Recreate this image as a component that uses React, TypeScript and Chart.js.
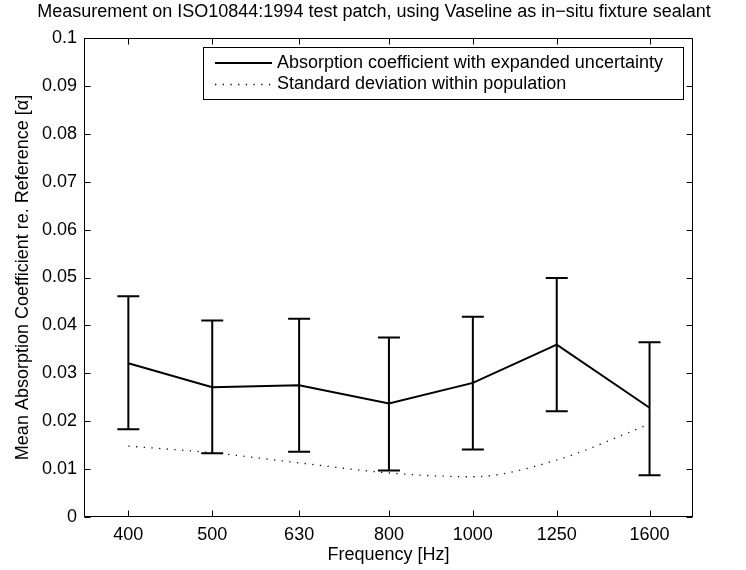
import React, { useEffect, useRef } from 'react';
import { Chart, registerables } from 'chart.js';

Chart.register(...registerables);

// ---- Data ----
const frequencies = [400, 500, 630, 800, 1000, 1250, 1600];
const frequencyLabels = ['400', '500', '630', '800', '1000', '1250', '1600'];
const meanAbsorption = [0.0321, 0.0271, 0.0275, 0.0237, 0.028, 0.036, 0.0228];
const upperBound = [0.0461, 0.041, 0.0414, 0.0375, 0.0418, 0.0499, 0.0365];
const lowerBound = [0.0183, 0.0133, 0.0136, 0.0097, 0.0141, 0.0221, 0.0087];
const stdDeviation = [0.0148, 0.0134, 0.0113, 0.0092, 0.0084, 0.0119, 0.0194];
const yTickValues = [0, 0.01, 0.02, 0.03, 0.04, 0.05, 0.06, 0.07, 0.08, 0.09, 0.1];

const titleText = 'Measurement on ISO10844:1994 test patch, using Vaseline as in\u2212situ fixture sealant';
const xTitle = 'Frequency [Hz]';
const yTitle = 'Mean Absorption Coefficient re. Reference [\u03b1]';
const legendLabels = ['Absorption coefficient with expanded uncertainty', 'Standard deviation within population'];

const FONT = "'Liberation Sans', Arial, Helvetica, sans-serif";
const FS = 18;

const decorPlugin = {
  id: 'decor',
  afterDatasetsDraw(chart: any) {
    const { ctx, scales } = chart;
    const x = scales.x;
    const y = scales.y;
    ctx.save();
    ctx.strokeStyle = '#000';
    ctx.lineWidth = 2;
    frequencies.forEach((f, i) => {
      const px = x.getPixelForValue(f);
      const pt = y.getPixelForValue(upperBound[i]);
      const pb = y.getPixelForValue(lowerBound[i]);
      ctx.beginPath();
      ctx.moveTo(px, pt);
      ctx.lineTo(px, pb);
      ctx.moveTo(px - 11, pt);
      ctx.lineTo(px + 11, pt);
      ctx.moveTo(px - 11, pb);
      ctx.lineTo(px + 11, pb);
      ctx.stroke();
    });
    ctx.restore();
  },
  afterDraw(chart: any) {
    const { ctx, chartArea: a, scales, width } = chart;
    const x = scales.x;
    const y = scales.y;
    const L = Math.round(a.left) + 0.5;
    const R = Math.round(a.right) - 0.5;
    const T = Math.round(a.top) + 0.5;
    const B = Math.round(a.bottom) - 0.5;
    ctx.save();
    ctx.strokeStyle = '#000';
    ctx.lineWidth = 1;
    ctx.strokeRect(L, T, R - L, B - T);
    ctx.beginPath();
    yTickValues.forEach((v) => {
      const py = Math.round(y.getPixelForValue(v)) + 0.5;
      ctx.moveTo(L, py);
      ctx.lineTo(L + 6, py);
      ctx.moveTo(R, py);
      ctx.lineTo(R - 6, py);
    });
    frequencies.forEach((f) => {
      const px = Math.round(x.getPixelForValue(f)) + 0.5;
      ctx.moveTo(px, B);
      ctx.lineTo(px, B - 6);
      ctx.moveTo(px, T);
      ctx.lineTo(px, T + 6);
    });
    ctx.stroke();

    // Title, centred on the figure
    ctx.fillStyle = '#000';
    ctx.font = `${FS}px ${FONT}`;
    ctx.textBaseline = 'middle';
    ctx.textAlign = 'center';
    ctx.fillText(titleText, width / 2 + 1, 12);

    // Legend box
    const bx = 203.5, by = 47.5, bw = 480, bh = 52;
    ctx.fillStyle = '#fff';
    ctx.fillRect(bx, by, bw, bh);
    ctx.strokeRect(bx, by, bw, bh);
    const rows = [63, 84.5];
    ctx.lineWidth = 1.8;
    ctx.beginPath();
    ctx.moveTo(215, rows[0]);
    ctx.lineTo(272, rows[0]);
    ctx.stroke();
    ctx.lineWidth = 1.3;
    ctx.strokeStyle = '#111';
    ctx.setLineDash([1.3, 6.4]);
    ctx.beginPath();
    ctx.moveTo(215, rows[1]);
    ctx.lineTo(272, rows[1]);
    ctx.stroke();
    ctx.setLineDash([]);
    ctx.fillStyle = '#000';
    ctx.textAlign = 'left';
    ctx.fillText(legendLabels[0], 277, rows[0]);
    ctx.fillText(legendLabels[1], 277, rows[1]);
    ctx.restore();
  },
};

export default function App() {
  const canvasRef = useRef<HTMLCanvasElement | null>(null);

  useEffect(() => {
    document.body.style.margin = '0';
    const canvas = canvasRef.current;
    if (!canvas) return;
    const chart = new Chart(canvas, {
      type: 'line',
      data: {
        datasets: [
          {
            label: legendLabels[0],
            data: frequencies.map((f, i) => ({ x: f, y: meanAbsorption[i] })),
            borderColor: '#000',
            borderWidth: 2,
            pointRadius: 0,
            fill: false,
            tension: 0,
          },
          {
            label: legendLabels[1],
            data: frequencies.map((f, i) => ({ x: f, y: stdDeviation[i] })),
            borderColor: '#111',
            borderWidth: 1.3,
            borderDash: [1.3, 6.4],
            pointRadius: 0,
            fill: false,
            cubicInterpolationMode: 'monotone',
          },
        ],
      },
      options: {
        animation: false,
        responsive: false,
        devicePixelRatio: 1,
        layout: { padding: { left: 0, right: 53, top: 38, bottom: 0 } },
        plugins: {
          legend: { display: false },
          tooltip: { enabled: false },
          title: { display: false },
        },
        scales: {
          x: {
            type: 'logarithmic',
            min: 355.5,
            max: 1796,
            afterBuildTicks: (scale: any) => {
              scale.ticks = frequencies.map((v) => ({ value: v }));
            },
            afterFit: (scale: any) => {
              scale.height = 53;
            },
            grid: { display: false, drawTicks: false },
            border: { display: false },
            ticks: {
              autoSkip: false,
              maxRotation: 0,
              padding: 7,
              color: '#000',
              font: { family: FONT, size: FS },
              callback: (v: any) => {
                const i = frequencies.indexOf(Number(v));
                return i >= 0 ? frequencyLabels[i] : '';
              },
            },
            title: {
              display: true,
              text: xTitle,
              color: '#000',
              font: { family: FONT, size: FS },
              padding: { top: 0, bottom: 4.5 },
            },
          },
          y: {
            type: 'linear',
            min: 0,
            max: 0.1,
            afterBuildTicks: (scale: any) => {
              scale.ticks = yTickValues.map((v) => ({ value: v }));
            },
            afterFit: (scale: any) => {
              scale.width = 84;
            },
            grid: { display: false, drawTicks: false },
            border: { display: false },
            ticks: {
              padding: 7,
              color: '#000',
              font: { family: FONT, size: FS },
              callback: (v: any) => String(Number(Number(v).toFixed(2))),
            },
            title: {
              display: true,
              text: yTitle,
              color: '#000',
              font: { family: FONT, size: FS },
              padding: { top: 12.5, bottom: 0 },
            },
          },
        },
      },
      plugins: [decorPlugin],
    });
    return () => chart.destroy();
  }, []);

  return (
    <div style={{ position: 'fixed', left: 0, top: 0, width: 746, height: 570, background: '#fff' }}>
      <canvas ref={canvasRef} width={746} height={570} />
    </div>
  );
}
